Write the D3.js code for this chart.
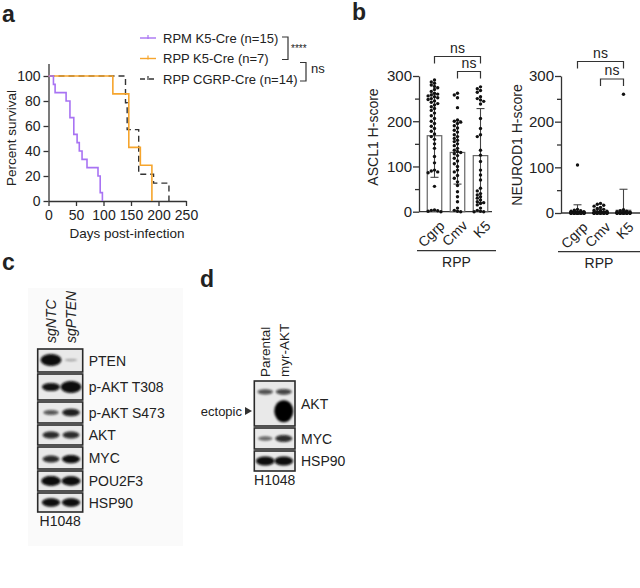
<!DOCTYPE html>
<html><head><meta charset="utf-8">
<script src="https://cdn.jsdelivr.net/npm/d3@7"></script>
<style>
body{margin:0;background:#fff;}
svg{display:block;font-family:"Liberation Sans", Arial, sans-serif;}
</style></head><body>
<svg id="fig" width="640" height="588"></svg>
<script>
// ================= DATA =================
// Panel a – Kaplan-Meier survival (day of each step, percent surviving after it)
const survivalGroups = ["RPM K5-Cre (n=15)", "RPP K5-Cre (n=7)", "RPP CGRP-Cre (n=14)"];
const rpmK5Days  = [0, 9, 12, 32, 39, 46, 52, 56, 61, 70, 90, 94, 98];
const rpmK5Pct   = [100, 93.3, 86.7, 80, 66.7, 53.3, 46.7, 40, 33.3, 26.7, 20, 6.7, 0];
const rppK5Days  = [0, 117, 146, 167, 188];
const rppK5Pct   = [100, 85.7, 42.9, 28.6, 0];
const rppCgrpDays = [0, 140, 143, 164, 191, 219];
const rppCgrpPct  = [100, 78.6, 57.1, 21.4, 14.3, 0];
const survXTicks = [0, 50, 100, 150, 200, 250];
const survYTicks = [0, 20, 40, 60, 80, 100];
const survStats  = ["****", "ns"];

// Panel b – H-scores
const hCats = ["Cgrp", "Cmv", "K5"];
const hTicks = [0, 50, 100, 150, 200, 250, 300];
const asclCgrp = [291,287,284,280,277,274,270,266,262,260,258,256,254,252,250,248,245,242,239,236,232,228,224,218,212,206,200,195,189,184,178,172,166,160,150,140,122,108,92,90,88,86,56,4,3,2,1,0];
const asclCmv  = [262,258,252,230,203,200,198,195,190,185,180,176,170,166,162,158,155,150,146,140,136,133,131,128,124,118,112,106,100,92,88,80,74,66,58,44,33,22,8,3,1,0];
const asclK5   = [276,272,268,264,254,250,247,244,238,206,184,170,166,136,125,111,92,81,70,52,46,40,37,33,30,26,22,20,18,15,8,3,1,0,0];
const asclMean = [168, 131, 124];
const asclSD   = [92, 70, 104];
const neuroCgrp = [105,8,6,5,4,3,3,2,2,1,1,1,0,0,0,0,0,0,0,0,0,0,0,0,0,0,0,0,0,0,0,0,0,0,0,0,0,0,0,0,0,0,0,0,0,0,0,0];
const neuroCmv  = [21,19,17,15,12,10,8,6,5,4,3,2,2,1,1,0,0,0,0,0,0,0,0,0,0,0,0,0,0,0,0,0,0,0,0,0,0,0,0,0,0,0];
const neuroK5   = [260,7,5,4,3,2,1,0,0,0,0,0,0,0,0,0,0,0,0,0,0,0,0,0,0,0,0,0,0,0,0,0,0,0,0];
const neuroMean = [3, 3, 6];
const neuroSD   = [15, 5, 46];
const hGroup = "RPP";

// Panel c – western blot (relative band strength per lane)
const blotCLanes   = ["sgNTC", "sgPTEN"];
const blotCTargets = ["PTEN", "p-AKT T308", "p-AKT S473", "AKT", "MYC", "POU2F3", "HSP90"];
const blotCSignal  = [[1.0, 0.12], [0.7, 1.0], [0.42, 0.65], [0.6, 0.6], [0.6, 0.72], [0.85, 0.8], [0.72, 0.72]];
const blotCCell    = "H1048";

// Panel d – western blot
const blotDLanes   = ["Parental", "myr-AKT"];
const blotDTargets = ["AKT", "MYC", "HSP90"];
const blotDSignal  = [[0.45, 0.5], [0.35, 0.6], [0.78, 0.78]];
const blotDEctopic = [0, 1.0];
const blotDCell    = "H1048";

// ================= DRAW =================
const svg = d3.select("#fig");
const ink = "#222", axisCol = "#333";
const defs = svg.append("defs");
defs.append("filter").attr("id","blur").attr("x","-50%").attr("y","-80%").attr("width","200%").attr("height","260%")
  .append("feGaussianBlur").attr("stdDeviation", 1.1);

function styleAxis(g, fs){
  g.attr("font-family", null).attr("font-size", fs);
  g.selectAll("path.domain").attr("stroke", axisCol).attr("stroke-width", 1.3);
  g.selectAll(".tick line").attr("stroke", axisCol).attr("stroke-width", 1.3);
  g.selectAll(".tick text").attr("fill", ink);
}
function letter(t, x, y){
  svg.append("text").attr("x", x).attr("y", y).attr("font-size", 23).attr("font-weight", "bold").attr("fill", ink).text(t);
}
letter("a", 2, 22); letter("b", 352, 20); letter("c", 2, 270); letter("d", 200, 287);

// ---------- Panel a ----------
{
  const xS = d3.scaleLinear().domain([0, 250]).range([48.5, 186]);
  const yS = d3.scaleLinear().domain([0, 110]).range([201, 63.5]);
  const gx = svg.append("g").attr("transform", "translate(0,201)")
    .call(d3.axisBottom(xS).tickValues(survXTicks).tickSize(5).tickSizeOuter(0).tickPadding(4));
  styleAxis(gx, 14);
  const gy = svg.append("g").attr("transform", "translate(48.5,0)")
    .call(d3.axisLeft(yS).tickValues(survYTicks).tickSize(5).tickSizeOuter(0).tickPadding(3));
  styleAxis(gy, 14);
  svg.append("text").attr("transform", "translate(16,138) rotate(-90)").attr("text-anchor", "middle")
    .attr("font-size", 13.5).attr("fill", ink).text("Percent survival");
  svg.append("text").attr("x", 127).attr("y", 238).attr("text-anchor", "middle")
    .attr("font-size", 13.5).attr("fill", ink).text("Days post-infection");

  const series = [
    {name: survivalGroups[2], days: rppCgrpDays, pct: rppCgrpPct, color: "#333", dash: "6,4", w: 1.4},
    {name: survivalGroups[1], days: rppK5Days, pct: rppK5Pct, color: "#f6a52d", dash: null, w: 1.6},
    {name: survivalGroups[0], days: rpmK5Days, pct: rpmK5Pct, color: "#a873f3", dash: null, w: 1.6}
  ];
  const line = d3.line().x(d => xS(d[0])).y(d => yS(d[1])).curve(d3.curveStepAfter);
  series.forEach(s => {
    svg.append("path").attr("d", line(s.days.map((d, i) => [d, s.pct[i]])))
      .attr("fill", "none").attr("stroke", s.color).attr("stroke-width", s.w)
      .attr("stroke-dasharray", s.dash);
  });
  // legend
  const legY = d3.scalePoint().domain(survivalGroups).range([38, 79]);
  const legSeries = [series[2], series[1], series[0]];
  legSeries.forEach(s => {
    const y = legY(s.name);
    svg.append("line").attr("x1", 140).attr("x2", 156).attr("y1", y).attr("y2", y)
      .attr("stroke", s.color).attr("stroke-width", 1.4).attr("stroke-dasharray", s.dash ? "5,4" : null);
    svg.append("line").attr("x1", 148).attr("x2", 148).attr("y1", y - 3).attr("y2", y + 1)
      .attr("stroke", s.color).attr("stroke-width", 1.2);
    svg.append("text").attr("x", 163).attr("y", y).attr("dy", "0.35em").attr("font-size", 13).attr("fill", ink).text(s.name);
  });
  const y0 = legY(survivalGroups[0]), y1 = legY(survivalGroups[1]), y2 = legY(survivalGroups[2]);
  svg.append("path").attr("d", `M282,${y0-1}H288V${y1+1}H282`).attr("fill", "none").attr("stroke", axisCol).attr("stroke-width", 1.2);
  svg.append("text").attr("x", 291).attr("y", (y0 + y1) / 2 + 4).attr("font-size", 10).attr("fill", ink).text(survStats[0]);
  svg.append("path").attr("d", `M300,${y1+4}H306V${y2+2}H300`).attr("fill", "none").attr("stroke", axisCol).attr("stroke-width", 1.2);
  svg.append("text").attr("x", 311).attr("y", (y1 + y2) / 2 + 4).attr("font-size", 13).attr("fill", ink).text(survStats[1]);
}

// ---------- Panel b ----------
function swarm(values, cx, yS, r, step, maxOff){
  const placed = [];
  values.map(v => yS(v)).sort((a, b) => a - b).forEach(y => {
    const cands = [0];
    for (let k = 1; k * step <= maxOff + 0.01; k++) cands.push(-k * step, k * step);
    let best = 0, bestCol = Infinity;
    for (const off of cands) {
      const col = placed.filter(p => Math.hypot(p.x - (cx + off), p.y - y) < 2 * r * 0.92).length;
      if (col === 0) { best = off; bestCol = 0; break; }
      if (col < bestCol) { bestCol = col; best = off; }
    }
    placed.push({x: cx + best, y});
  });
  return placed;
}
function hPanel(o){
  const yS = d3.scaleLinear().domain([0, 300]).range([o.y0, 76]);
  const xB = d3.scaleBand().domain(hCats).range(o.band).paddingInner(0.37).paddingOuter(0.185);
  const g = svg.append("g");
  const gy = g.append("g").attr("transform", `translate(${o.axisX},0)`)
    .call(d3.axisLeft(yS).tickValues(hTicks).tickSize(5).tickSizeOuter(0).tickPadding(2)
      .tickFormat(d => d % 100 === 0 ? d : ""));
  styleAxis(gy, 15);
  gy.selectAll(".tick line").attr("x2", d => d % 100 === 0 ? -6 : -4);
  g.append("line").attr("x1", o.axisX).attr("x2", o.xEnd).attr("y1", o.y0).attr("y2", o.y0)
    .attr("stroke", axisCol).attr("stroke-width", 1.3);
  g.append("text").attr("transform", `translate(${o.titleX},${o.titleY}) rotate(-90)`).attr("text-anchor", "middle")
    .attr("font-size", 14).attr("fill", ink).text(o.title);
  const cx = c => xB(c) + xB.bandwidth() / 2;
  // bars
  g.selectAll(".bar").data(hCats).join("rect").attr("x", c => xB(c)).attr("width", xB.bandwidth())
    .attr("y", (c, i) => yS(o.mean[i])).attr("height", (c, i) => o.y0 - yS(o.mean[i]))
    .attr("fill", "#fff").attr("stroke", "#666").attr("stroke-width", 1.2);
  // error bars
  hCats.forEach((c, i) => {
    const lo = Math.max(0, o.mean[i] - o.sd[i]), hi = o.mean[i] + o.sd[i];
    g.append("line").attr("x1", cx(c)).attr("x2", cx(c)).attr("y1", yS(lo)).attr("y2", yS(hi)).attr("stroke", "#444").attr("stroke-width", 1.1);
    g.append("line").attr("x1", cx(c) - 4).attr("x2", cx(c) + 4).attr("y1", yS(hi)).attr("y2", yS(hi)).attr("stroke", "#444").attr("stroke-width", 1.1);
    if (o.mean[i] - o.sd[i] > 0)
      g.append("line").attr("x1", cx(c) - 4).attr("x2", cx(c) + 4).attr("y1", yS(lo)).attr("y2", yS(lo)).attr("stroke", "#444").attr("stroke-width", 1.1);
  });
  // dots
  o.values.forEach((vals, i) => {
    const pts = swarm(vals, cx(hCats[i]), yS, 1.7, 3.2, 6.4);
    g.selectAll(null).data(pts).join("circle").attr("cx", d => d.x).attr("cy", d => d.y).attr("r", 1.7).attr("fill", "#111");
  });
  // category labels
  g.selectAll(".cat").data(hCats).join("text")
    .attr("transform", c => `translate(${cx(c) + 4},${o.y0 + 8}) rotate(-45)`)
    .attr("text-anchor", "end").attr("dy", "0.7em").attr("font-size", 14).attr("fill", ink).text(c => c);
  // group line
  g.append("line").attr("x1", o.grp[0]).attr("x2", o.grp[1]).attr("y1", o.grpY).attr("y2", o.grpY).attr("stroke", axisCol).attr("stroke-width", 1.2);
  g.append("text").attr("x", (o.grp[0] + o.grp[1]) / 2).attr("y", o.grpY + 16).attr("text-anchor", "middle")
    .attr("font-size", 14).attr("fill", ink).text(hGroup);
  // brackets
  o.brackets.forEach(b => {
    const xa = cx(b.a), xb = cx(b.b);
    g.append("path").attr("d", `M${xa},${b.y + 7}V${b.y}H${xb}V${b.y + 7}`).attr("fill", "none").attr("stroke", axisCol).attr("stroke-width", 1.2);
    g.append("text").attr("x", (xa + xb) / 2).attr("y", b.y - 4).attr("text-anchor", "middle").attr("font-size", 14).attr("fill", ink).text("ns");
  });
}
hPanel({axisX: 419, xEnd: 492, y0: 211.7, band: [423, 492], title: "ASCL1 H-score", titleX: 378, titleY: 137,
  mean: asclMean, sd: asclSD, values: [asclCgrp, asclCmv, asclK5], grp: [417, 496], grpY: 250.7,
  brackets: [{a: "Cgrp", b: "K5", y: 56.5}, {a: "Cmv", b: "K5", y: 71.5}]});
hPanel({axisX: 561, xEnd: 640, y0: 213, band: [566, 635], title: "NEUROD1 H-score", titleX: 522, titleY: 145,
  mean: neuroMean, sd: neuroSD, values: [neuroCgrp, neuroCmv, neuroK5], grp: [558, 640], grpY: 251.7,
  brackets: [{a: "Cgrp", b: "K5", y: 61.5}, {a: "Cmv", b: "K5", y: 79}]});

// ---------- Blots ----------
function bandShape(g, cx, cy, s, kx, ky){
  if (s <= 0) return;
  g.append("ellipse").attr("cx", cx).attr("cy", cy)
    .attr("rx", (5.5 + 5 * s) * kx).attr("ry", (0.8 + 5.2 * Math.pow(s, 1.3)) * ky)
    .attr("fill", "#080808").attr("opacity", Math.min(1, 0.2 + 1.1 * s)).attr("filter", "url(#blur)");
}
function blot(o){
  const g = svg.append("g");
  const lane = d3.scaleBand().domain(o.lanes).range(o.laneRange);
  const lc = l => lane(l) + lane.bandwidth() / 2;
  g.selectAll(".ln").data(o.lanes).join("text")
    .attr("transform", l => `translate(${lc(l) + 5},${o.laneBottom}) rotate(-90)`)
    .attr("font-size", o.laneFs).attr("font-style", o.italic ? "italic" : null).attr("fill", ink).text(l => l);
  let top = o.top;
  o.targets.forEach((t, i) => {
    const h = o.rowH[i];
    const id = "clip" + o.key + i;
    defs.append("clipPath").attr("id", id).append("rect").attr("x", o.box[0]).attr("y", top).attr("width", o.box[1] - o.box[0]).attr("height", h);
    g.append("rect").attr("x", o.box[0]).attr("y", top).attr("width", o.box[1] - o.box[0]).attr("height", h).attr("fill", "#e9e9e9");
    const bg = g.append("g").attr("clip-path", `url(#${id})`);
    o.lanes.forEach((l, j) => {
      bandShape(bg, lc(l), top + h * (o.bandPos ? o.bandPos[i] : 0.5), o.signal[i][j], 1, 1);
      if (o.extra && o.extra.row === i) {
        const s = o.extra.signal[j];
        if (s > 0) bg.append("ellipse").attr("cx", lc(l)).attr("cy", top + h * o.extra.pos)
          .attr("rx", 9.5 * s).attr("ry", 11 * s).attr("fill", "#050505").attr("filter", "url(#blur)");
      }
    });
    g.append("rect").attr("x", o.box[0]).attr("y", top).attr("width", o.box[1] - o.box[0]).attr("height", h)
      .attr("fill", "none").attr("stroke", "#2a2a2a").attr("stroke-width", 1.6);
    g.append("text").attr("x", o.box[1] + 6).attr("y", top + h / 2).attr("dy", "0.36em").attr("font-size", 14).attr("fill", ink).text(t);
    top += h + o.gap;
  });
  g.append("text").attr("x", (o.box[0] + o.box[1]) / 2).attr("y", top + 12).attr("text-anchor", "middle")
    .attr("font-size", 14).attr("fill", ink).text(o.cell);
  return g;
}
svg.append("rect").attr("x", 28).attr("y", 288).attr("width", 155).attr("height", 258).attr("fill", "#fafafa");
blot({key: "c", lanes: blotCLanes, targets: blotCTargets, signal: blotCSignal, cell: blotCCell,
  laneRange: [41, 81], laneBottom: 343, laneFs: 14, italic: true, box: [37.7, 82.7], top: 349,
  rowH: [23, 26, 21, 20, 22, 20, 19], gap: 2, bandPos: [0.48, 0.5, 0.5, 0.5, 0.55, 0.5, 0.5]});
const gd = blot({key: "d", lanes: blotDLanes, targets: blotDTargets, signal: blotDSignal, cell: blotDCell,
  laneRange: [256, 293], laneBottom: 377, laneFs: 13.5, italic: false, box: [254.3, 295], top: 381,
  rowH: [45, 21, 20], gap: 2, bandPos: [0.24, 0.5, 0.5], extra: {row: 0, signal: blotDEctopic, pos: 0.67}});
gd.append("text").attr("x", 242).attr("y", 411).attr("dy", "0.35em").attr("text-anchor", "end").attr("font-size", 13).attr("fill", ink).text("ectopic");
gd.append("path").attr("d", "M245,407L252,411L245,415Z").attr("fill", "#333");
</script>
</body></html>
